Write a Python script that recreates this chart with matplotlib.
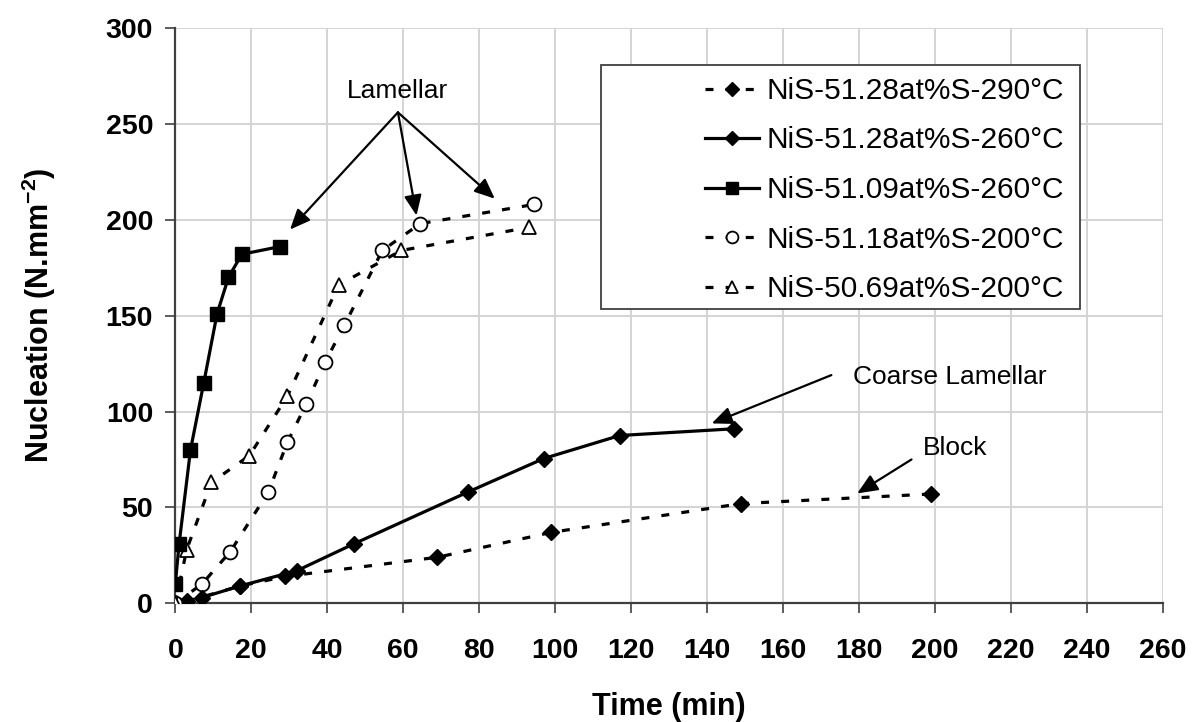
import matplotlib
matplotlib.use("Agg")
import matplotlib.pyplot as plt
from matplotlib.patches import Rectangle

plt.rcParams['font.family'] = ['Liberation Sans', 'DejaVu Sans']
plt.rcParams['mathtext.fontset'] = 'custom'
plt.rcParams['mathtext.rm'] = 'Liberation Sans'
plt.rcParams['mathtext.bf'] = 'Liberation Sans:bold'

# ---- data ----
t_290 = [3, 17, 29, 69, 99, 149, 199]
n_290 = [1, 9, 14, 24, 37, 52, 57]

t_260 = [7, 17, 32, 47, 77, 97, 117, 147]
n_260 = [3, 9, 17, 31, 58, 75.5, 87.5, 91]

t_5109 = [0, 1, 4, 7.5, 11, 14, 17.5, 27.5]
n_5109 = [10, 31, 80, 115, 151, 170, 182, 186]

t_5118 = [0, 7, 14.5, 24.5, 29.5, 34.5, 39.5, 44.5, 54.5, 64.5, 94.5]
n_5118 = [0, 10, 27, 58, 84, 104, 126, 145, 184, 198, 208]

t_5069 = [0, 3, 9.5, 19.5, 29.5, 43, 59.5, 93]
n_5069 = [0, 28, 63, 77, 108, 166, 184, 196]

labels = ["NiS-51.28at%S-290°C", "NiS-51.28at%S-260°C", "NiS-51.09at%S-260°C",
          "NiS-51.18at%S-200°C", "NiS-50.69at%S-200°C"]

xticks = list(range(0, 261, 20))
yticks = list(range(0, 301, 50))

# ---- figure ----
W, H = 1193, 722
fig = plt.figure(figsize=(W / 100, H / 100), dpi=100)
x0, x1, y0, y1 = 175.3, 1163, 603.3, 28
ax = fig.add_axes([x0 / W, 1 - y0 / H, (x1 - x0) / W, (y0 - y1) / H])

dash = (0, (2.5, 3.8))
lw = 2.3
ax.plot(t_290, n_290, linestyle=dash, color='black', lw=lw, marker='D', ms=8.5,
        mfc='black', mec='black', label=labels[0], zorder=5)
ax.plot(t_260, n_260, linestyle='-', color='black', lw=lw, marker='D', ms=8.5,
        mfc='black', mec='black', label=labels[1], zorder=6)
ax.plot(t_5109, n_5109, linestyle='-', color='black', lw=lw, marker='s', ms=10,
        mfc='black', mec='black', label=labels[2], zorder=6)
ax.plot(t_5118, n_5118, linestyle=dash, color='black', lw=lw, marker='o', ms=10,
        mfc='white', mec='black', mew=1.3, label=labels[3], zorder=5)
ax.plot(t_5069, n_5069, linestyle=dash, color='black', lw=lw, marker='^', ms=10,
        mfc='white', mec='black', mew=1.3, label=labels[4], zorder=5)

ax.set_xlim(0, 260)
ax.set_ylim(0, 300)
ax.set_xticks(xticks)
ax.set_yticks(yticks)
ax.grid(True, color='#d4d4d4', lw=1.4)
ax.set_axisbelow(True)
for s in ['top', 'right']:
    ax.spines[s].set_visible(False)
for s in ['left', 'bottom']:
    ax.spines[s].set_color('#404040')
    ax.spines[s].set_linewidth(1.6)
ax.tick_params(axis='both', direction='out', length=7, width=1.2, color='#404040',
               labelsize=20.5, pad=9)
for lab in ax.get_xticklabels() + ax.get_yticklabels():
    lab.set_fontweight('bold')
ax.tick_params(axis='x', pad=18)

ax.set_xlabel("Time (min)", fontsize=22, fontweight='bold', labelpad=20)
ax.set_ylabel("Nucleation (N.mm$^{\\mathbf{-2}}$)", fontsize=22, fontweight='bold',
              labelpad=34)

# legend box
ax.add_patch(Rectangle(((601 - x0) / (x1 - x0), (y0 - 309) / (y0 - y1)),
                       (1080 - 601) / (x1 - x0), (309 - 65) / (y0 - y1),
                       transform=ax.transAxes, facecolor='white', edgecolor='#404040',
                       lw=1.3, zorder=8, clip_on=False))
leg = ax.legend(loc='upper left', bbox_to_anchor=(705 / W, 1 - 77 / H),
                bbox_transform=fig.transFigure, frameon=False, fontsize=21.5,
                handlelength=1.8, handletextpad=0.26, labelspacing=0.72,
                borderpad=0, borderaxespad=0, markerscale=0.85)
leg.set_zorder(9)

# annotations
ap = dict(arrowstyle='-|>,head_length=0.65,head_width=0.28', color='black', lw=1.6,
          shrinkA=0, shrinkB=0)
ax.text(58.5, 267, "Lamellar", fontsize=19, ha='center', va='center', zorder=10)
for tip in [(30.2, 194.9), (63.5, 202.2), (84.1, 211)]:
    ax.annotate("", xy=tip, xytext=(58.6, 256), arrowprops=ap, fontsize=19, zorder=10)

ax.text(178.3, 118, "Coarse Lamellar", fontsize=19, ha='left', va='center', zorder=10)
ax.annotate("", xy=(141.2, 93.8), xytext=(172.7, 119), arrowprops=ap, fontsize=19)

ax.text(196.8, 81, "Block", fontsize=19, ha='left', va='center', zorder=10)
ax.annotate("", xy=(179.5, 57.3), xytext=(193.8, 75), arrowprops=ap, fontsize=19)

fig.savefig("out.png", dpi=100)
